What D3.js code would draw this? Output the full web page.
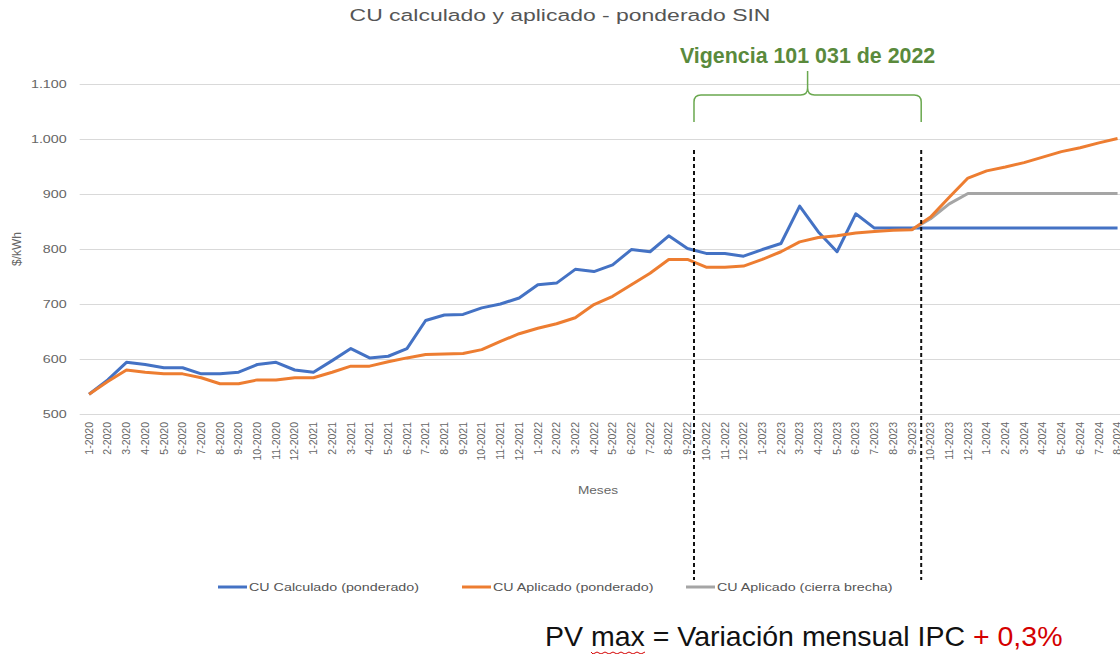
<!DOCTYPE html>
<html>
<head>
<meta charset="utf-8">
<script src="https://cdn.jsdelivr.net/npm/d3@7"></script>
<style>
  body { margin: 0; background: #fff; }
  svg { display: block; font-family: "Liberation Sans", Arial, sans-serif; }
  .tick line { stroke: #d9d9d9; }
</style>
</head>
<body>
<svg width="1120" height="654"></svg>
<script>
// months shown on the x axis (chart is cut off on the right at 8-2024)
const months = [
  '1-2020','2-2020','3-2020','4-2020','5-2020','6-2020','7-2020','8-2020','9-2020','10-2020','11-2020','12-2020',
  '1-2021','2-2021','3-2021','4-2021','5-2021','6-2021','7-2021','8-2021','9-2021','10-2021','11-2021','12-2021',
  '1-2022','2-2022','3-2022','4-2022','5-2022','6-2022','7-2022','8-2022','9-2022','10-2022','11-2022','12-2022',
  '1-2023','2-2023','3-2023','4-2023','5-2023','6-2023','7-2023','8-2023','9-2023','10-2023','11-2023','12-2023',
  '1-2024','2-2024','3-2024','4-2024','5-2024','6-2024','7-2024','8-2024'
];

const cuCalculado = [
  536, 562, 594, 590, 584, 584, 573, 573, 576, 590, 594, 580,
  576, 597, 619, 602, 605, 619, 670, 680, 681, 693, 700, 711,
  735, 738, 763, 759, 771, 799, 795, 824, 801, 792, 792, 787,
  799, 810, 878, 831, 795, 864, 838, 838, 838, 838, 838, 838,
  838, 838, 838, 838, 838, 838, 838, 838
];

const cuAplicado = [
  536, 559, 580, 576, 573, 573, 566, 555, 555, 562, 562, 566,
  566, 576, 587, 587, 595, 602, 608, 609, 610, 617, 632, 646,
  656, 664, 675, 699, 714, 735, 756, 781, 781, 767, 767, 769,
  781, 795, 813, 821, 824, 829, 832, 834, 835, 858, 894, 929,
  942, 949, 957, 967, 977, 984, 993, 1001
];

const cuCierraBrecha = [
  null, null, null, null, null, null, null, null, null, null, null, null,
  null, null, null, null, null, null, null, null, null, null, null, null,
  null, null, null, null, null, null, null, null, null, null, null, null,
  null, null, null, null, null, null, null, null, 835, 855, 882, 901,
  901, 901, 901, 901, 901, 901, 901, 901
];

const yTicks = [500, 600, 700, 800, 900, 1000, 1100];

const seriesNames = ['CU Calculado (ponderado)', 'CU Aplicado (ponderado)', 'CU Aplicado (cierra brecha)'];
const seriesColors = ['#4472c4', '#ed7d31', '#a5a5a5'];

const svg = d3.select('svg');
const width = +svg.attr('width');
const height = +svg.attr('height');

// the picture looks horizontally stretched, so most small texts get a x-scale
const sx = 1.3;
const margin = {top: 84, left: 79.7, bottom: 240};
const step = 18.7;
const plotBottom = 414;

const x = d3.scaleBand()
  .domain(months)
  .range([margin.left, margin.left + step * months.length])
  .padding(0);
const cx = d => x(d) + x.bandwidth() / 2;

const y = d3.scaleLinear()
  .domain([500, 1100])
  .range([plotBottom, margin.top]);

const locale = d3.formatLocale({decimal: ',', thousands: '.', grouping: [3], currency: ['$', '']});
const fmt = locale.format(',d');

// y axis + gridlines
const yAxisG = svg.append('g')
  .attr('transform', `translate(${margin.left},0)`)
  .call(d3.axisLeft(y).tickValues(yTicks).tickFormat(fmt).tickSize(-(width - margin.left)).tickPadding(0));
yAxisG.select('.domain').remove();
yAxisG.selectAll('.tick line').attr('stroke', '#d9d9d9');
yAxisG.selectAll('.tick text')
  .attr('fill', '#666')
  .attr('font-size', 11)
  .attr('x', -13 / sx)
  .attr('dy', '0.35em')
  .attr('transform', `scale(${sx},1)`);

// x axis labels
const xAxisG = svg.append('g')
  .attr('transform', `translate(0,${plotBottom})`)
  .call(d3.axisBottom(x).tickSize(0).tickPadding(0));
xAxisG.select('.domain').remove();
xAxisG.selectAll('.tick text')
  .attr('fill', '#666')
  .attr('font-size', 10.5)
  .attr('text-anchor', 'end')
  .attr('transform', 'rotate(-90)')
  .attr('x', -8)
  .attr('y', 0)
  .attr('dy', '0.35em');

// axis titles
svg.append('text')
  .attr('transform', `translate(598,494) scale(${sx},1)`)
  .attr('text-anchor', 'middle')
  .attr('fill', '#666')
  .attr('font-size', 10.5)
  .text('Meses');

svg.append('text')
  .attr('transform', `translate(21,249) rotate(-90)`)
  .attr('text-anchor', 'middle')
  .attr('fill', '#666')
  .attr('font-size', 12)
  .text('$/kWh');

// title
svg.append('text')
  .attr('transform', `translate(560,21) scale(1.35,1)`)
  .attr('text-anchor', 'middle')
  .attr('fill', '#555')
  .attr('font-size', 17)
  .text('CU calculado y aplicado - ponderado SIN');

// lines
const line = d3.line()
  .defined(d => d.v != null)
  .x(d => cx(d.m))
  .y(d => y(d.v));

const allSeries = [cuCalculado, cuCierraBrecha, cuAplicado];
const drawColors = [seriesColors[0], seriesColors[2], seriesColors[1]];

svg.append('g')
  .selectAll('path')
  .data(allSeries)
  .enter().append('path')
    .attr('fill', 'none')
    .attr('stroke', (d, i) => drawColors[i])
    .attr('stroke-width', 3)
    .attr('stroke-linejoin', 'round')
    .attr('d', d => line(d.map((v, i) => ({m: months[i], v}))));

// dashed markers for the period
const x1 = cx('9-2022') + step * 0.35;
const x2 = cx('9-2023') + step * 0.5;

svg.selectAll('.marker')
  .data([x1, x2])
  .enter().append('line')
    .attr('class', 'marker')
    .attr('x1', d => d)
    .attr('x2', d => d)
    .attr('y1', 150)
    .attr('y2', 580)
    .attr('stroke', '#111')
    .attr('stroke-width', 2)
    .attr('stroke-dasharray', '4,3');

// curly bracket
const mid = (x1 + x2) / 2;
const braceTop = 95, braceEnd = 122, peak = 71;
const brace = d3.path();
brace.moveTo(x1, braceEnd);
brace.lineTo(x1, braceTop + 7);
brace.quadraticCurveTo(x1, braceTop, x1 + 7, braceTop);
brace.lineTo(mid - 7, braceTop);
brace.quadraticCurveTo(mid, braceTop, mid, braceTop - 7);
brace.lineTo(mid, peak);
brace.moveTo(mid, braceTop - 7);
brace.quadraticCurveTo(mid, braceTop, mid + 7, braceTop);
brace.lineTo(x2 - 7, braceTop);
brace.quadraticCurveTo(x2, braceTop, x2, braceTop + 7);
brace.lineTo(x2, braceEnd);

svg.append('path')
  .attr('d', brace.toString())
  .attr('fill', 'none')
  .attr('stroke', '#6aa84f')
  .attr('stroke-width', 1.5);

svg.append('text')
  .attr('x', mid)
  .attr('y', 63)
  .attr('text-anchor', 'middle')
  .attr('fill', '#5a8a3c')
  .attr('font-size', 21.4)
  .attr('font-weight', 'bold')
  .text('Vigencia 101 031 de 2022');

// legend
const legendX = [218, 462, 686];
const legend = svg.append('g')
  .selectAll('g')
  .data(seriesNames)
  .enter().append('g')
    .attr('transform', (d, i) => `translate(${legendX[i]},587)`);

legend.append('line')
  .attr('x1', 0)
  .attr('x2', 29)
  .attr('stroke', (d, i) => seriesColors[i])
  .attr('stroke-width', 3);

legend.append('text')
  .attr('transform', `translate(31,0) scale(${sx},1)`)
  .attr('dy', '0.35em')
  .attr('fill', '#555')
  .attr('font-size', 11)
  .text(d => d);

// note below the chart
const note = svg.append('text')
  .attr('x', 545)
  .attr('y', 646)
  .attr('font-size', 28.5)
  .attr('fill', '#111');
note.append('tspan').text('PV ');
note.append('tspan').text('max');
note.append('tspan').text(' = Variación mensual IPC ');
note.append('tspan').attr('fill', '#d40000').text('+ 0,3%');

// red spellcheck squiggle under "max"
const sq = d3.path();
sq.moveTo(591, 652);
for (let i = 0; i < 14; i++) {
  sq.lineTo(591 + i * 4 + 2, i % 2 ? 652 : 654);
}
svg.append('path')
  .attr('d', sq.toString())
  .attr('fill', 'none')
  .attr('stroke', '#d40000')
  .attr('stroke-width', 1);
</script>
</body>
</html>
